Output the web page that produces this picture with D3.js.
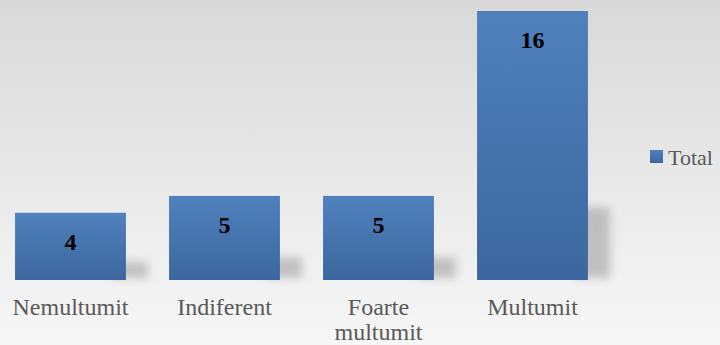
<!DOCTYPE html>
<html>
<head>
<meta charset="utf-8">
<script src="https://cdn.jsdelivr.net/npm/d3@7"></script>
<style>
  body { margin: 0; }
  text { font-family: 'Liberation Serif', 'DejaVu Serif', serif; }
</style>
</head>
<body>
<svg id="chart" width="720" height="345"></svg>
<script>
// Chart data
const categories = ['Nemultumit', 'Indiferent', 'Foarte multumit', 'Multumit'];
const values = [4, 5, 5, 16];
const seriesName = 'Total';

const width = 720;
const height = 345;
const font = "'Liberation Serif', 'DejaVu Serif', serif";

const svg = d3.select('#chart');
const defs = svg.append('defs');

// Background gradient
const bg = defs.append('linearGradient').attr('id', 'bg')
  .attr('x1', 0).attr('y1', 0).attr('x2', 0).attr('y2', 1);
bg.append('stop').attr('offset', '0%').attr('stop-color', '#d9d9d9');
bg.append('stop').attr('offset', '100%').attr('stop-color', '#f7f7f7');

// Bar gradient
const barGrad = defs.append('linearGradient').attr('id', 'barGrad')
  .attr('x1', 0).attr('y1', 0).attr('x2', 0).attr('y2', 1);
barGrad.append('stop').attr('offset', '0%').attr('stop-color', '#4f81bd');
barGrad.append('stop').attr('offset', '100%').attr('stop-color', '#3c679e');

const legGrad = defs.append('linearGradient').attr('id', 'legGrad')
  .attr('x1', 0).attr('y1', 0).attr('x2', 0).attr('y2', 1);
legGrad.append('stop').attr('offset', '0%').attr('stop-color', '#4f81bd');
legGrad.append('stop').attr('offset', '100%').attr('stop-color', '#3a669c');

defs.append('filter').attr('id', 'blur')
  .attr('x', '-50%').attr('y', '-50%').attr('width', '200%').attr('height', '200%')
  .append('feGaussianBlur').attr('stdDeviation', 5);

svg.append('rect')
  .attr('width', width).attr('height', height)
  .attr('fill', 'url(#bg)');

// Scales
const x = d3.scaleBand()
  .domain(categories)
  .range([-6.5, 609.5])
  .paddingInner(0.28)
  .paddingOuter(0.14);

const y = d3.scaleLinear()
  .domain([0, 16])
  .range([280, 11]);

const g = svg.append('g');

// Shadows
g.selectAll('rect.shadow')
  .data(values)
  .enter()
  .append('rect')
  .classed('shadow', true)
  .attr('x', (d, i) => x(categories[i]) + x.bandwidth() - 14)
  .attr('y', (d) => y(0) - (y(0) - y(d)) * 0.27)
  .attr('width', 36)
  .attr('height', (d) => (y(0) - y(d)) * 0.27 - 2)
  .attr('fill', '#999')
  .attr('opacity', 0.55)
  .attr('filter', 'url(#blur)');

// Bars
g.selectAll('rect.bar')
  .data(values)
  .enter()
  .append('rect')
  .classed('bar', true)
  .attr('x', (d, i) => x(categories[i]))
  .attr('y', (d) => y(d))
  .attr('width', x.bandwidth())
  .attr('height', (d) => y(0) - y(d))
  .attr('fill', 'url(#barGrad)');

// Value labels
g.selectAll('text.value')
  .data(values)
  .enter()
  .append('text')
  .classed('value', true)
  .attr('x', (d, i) => x(categories[i]) + x.bandwidth() / 2)
  .attr('y', (d) => y(d) + 37)
  .attr('text-anchor', 'middle')
  .attr('font-family', font)
  .attr('font-size', 24)
  .attr('font-weight', 'bold')
  .attr('fill', '#000')
  .text((d) => d);

// Category labels (wrapped)
const wrapped = {
  'Foarte multumit': ['Foarte', 'multumit'],
};
categories.forEach((c) => {
  const lines = wrapped[c] || [c];
  const t = g.append('text')
    .attr('x', x(c) + x.bandwidth() / 2)
    .attr('y', 315)
    .attr('text-anchor', 'middle')
    .attr('font-family', font)
    .attr('font-size', 24)
    .attr('fill', '#595959');
  lines.forEach((line, i) => {
    t.append('tspan')
      .attr('x', x(c) + x.bandwidth() / 2)
      .attr('dy', i === 0 ? 0 : 25)
      .text(line);
  });
});

// Legend
const legend = svg.append('g').attr('transform', 'translate(650, 150)');
legend.append('rect')
  .attr('width', 13).attr('height', 13)
  .attr('fill', 'url(#legGrad)');
legend.append('text')
  .attr('x', 18).attr('y', 15)
  .attr('font-family', font)
  .attr('font-size', 22)
  .attr('fill', '#595959')
  .text(seriesName);
</script>
</body>
</html>
